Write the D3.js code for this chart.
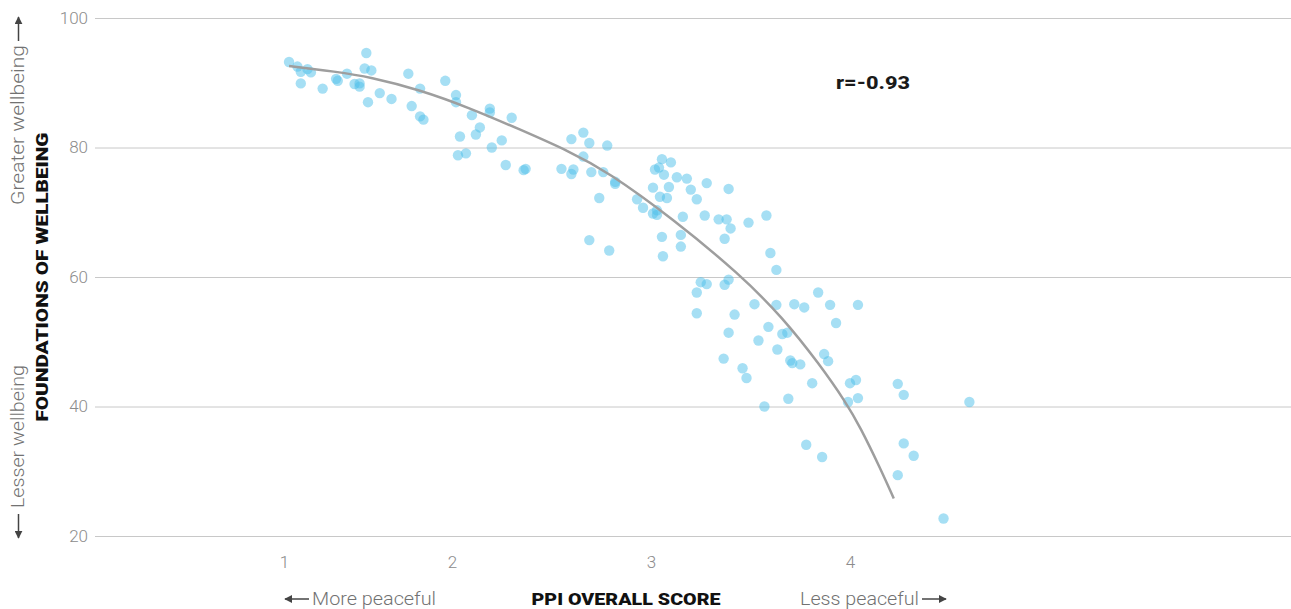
<!DOCTYPE html>
<html>
<head>
<meta charset="utf-8">
<script src="https://cdn.jsdelivr.net/npm/d3@7"></script>
<style>
  html, body { margin: 0; padding: 0; background: #fff; }
  svg { display: block; }
  text { font-family: Roboto, "Noto Sans", sans-serif; }
</style>
</head>
<body>
<svg id="chart" width="1291" height="609"></svg>
<script>
// ---- Data ----
const ppiScore = [
  1.03,1.08,1.10,1.14,1.16,1.10,1.23,1.31,1.32,1.375,1.42,1.45,1.45,1.49,1.48,1.52,1.50,1.57,1.64,1.74,
  1.81,1.76,1.81,1.83,1.96,2.02,2.02,2.10,2.04,2.12,2.14,2.19,2.19,2.30,2.25,2.20,2.03,2.07,2.27,2.36,
  2.37,2.55,2.66,2.60,2.69,2.78,2.66,2.61,2.60,2.70,2.76,2.82,2.82,2.74,2.69,2.79,2.93,2.96,3.01,3.02,
  3.04,3.055,3.10,3.065,3.09,3.045,3.08,3.03,3.01,3.03,3.13,3.18,3.20,3.23,3.28,3.39,3.16,3.27,3.34,3.38,
  3.40,3.49,3.58,3.37,3.055,3.15,3.15,3.06,3.60,3.63,3.25,3.28,3.23,3.37,3.39,3.23,3.42,3.52,3.63,3.72,
  3.77,3.84,3.90,4.04,3.93,3.39,3.59,3.54,3.66,3.685,3.635,3.365,3.46,3.48,3.70,3.71,3.75,3.87,3.89,3.81,
  4.00,4.03,4.24,4.27,4.60,3.99,4.04,3.69,3.57,3.78,3.86,4.27,4.32,4.24,4.47
];
const wellbeing = [
  93.2,92.5,91.7,92.1,91.6,89.9,89.1,90.6,90.3,91.4,89.8,89.4,89.9,94.6,92.2,91.9,87.0,88.4,87.5,91.4,
  89.1,86.4,84.8,84.3,90.3,88.1,87.0,85.0,81.7,82.0,83.1,86.0,85.4,84.6,81.1,80.0,78.8,79.1,77.3,76.5,
  76.7,76.7,82.3,81.3,80.7,80.3,78.6,76.6,75.9,76.2,76.2,74.7,74.4,72.2,65.7,64.1,72.0,70.7,73.8,76.6,
  76.9,78.2,77.7,75.8,73.9,72.4,72.2,70.3,69.8,69.6,75.4,75.2,73.5,72.0,74.5,73.6,69.3,69.5,68.9,68.9,
  67.5,68.4,69.5,65.9,66.2,66.5,64.7,63.2,63.7,61.1,59.2,58.9,57.6,58.8,59.6,54.4,54.2,55.8,55.7,55.8,
  55.3,57.6,55.7,55.7,52.9,51.4,52.3,50.2,51.2,51.4,48.8,47.4,45.9,44.4,47.1,46.7,46.5,48.1,47.0,43.6,
  43.6,44.1,43.5,41.8,40.7,40.7,41.3,41.2,40.0,34.1,32.2,34.3,32.4,29.4,22.7
];
// Fitted trend line
const trendX = [1.03,1.31,1.51,1.81,2.09,2.34,2.59,2.78,3.11,3.45,3.66,3.85,3.98,4.05,4.15,4.22];
const trendY = [92.6,91.7,90.9,88.9,86.1,82.8,79.4,76.3,69.0,60.3,53.8,46.4,40.6,36.9,30.6,25.8];

const xTicks = [1, 2, 3, 4];
const yTicks = [20, 40, 60, 80, 100];
const correlationLabel = "r=-0.93";
const xTitle = "PPI OVERALL SCORE";
const yTitle = "FOUNDATIONS OF WELLBEING";
const xLeftNote = "More peaceful";
const xRightNote = "Less peaceful";
const yTopNote = "Greater wellbeing";
const yBottomNote = "Lesser wellbeing";

// ---- Chart ----
const W = 1291, H = 609;
const svg = d3.select("#chart");

const x = d3.scaleLinear().domain([1, 2, 3, 4]).range([284, 452, 651, 850]);
const y = d3.scaleLinear().domain([20, 100]).range([536, 18]);
const gridLeft = 95, gridRight = W;

// arrow head marker
svg.append("defs").append("marker")
  .attr("id", "ah")
  .attr("viewBox", "0 0 10 10")
  .attr("refX", 9).attr("refY", 5)
  .attr("markerUnits", "userSpaceOnUse")
  .attr("markerWidth", 8).attr("markerHeight", 8)
  .attr("orient", "auto")
  .append("path").attr("d", "M0,0 L10,5 L0,10 Z").attr("fill", "#444");

// gridlines
const yAxis = d3.axisLeft(y).tickValues(yTicks).tickSize(-(gridRight - gridLeft)).tickPadding(8);
const gy = svg.append("g").attr("transform", `translate(${gridLeft},0)`).call(yAxis);
gy.select(".domain").remove();
gy.selectAll(".tick line").attr("stroke", "#c8c8c8").attr("stroke-width", 1);
gy.selectAll(".tick text")
  .attr("x", -7)
  .attr("fill", "#8c8c8c")
  .style("font-size", "17px")
  .style("font-weight", 300)
  .style("font-family", "Roboto, sans-serif");

// x axis labels
const xAxis = d3.axisBottom(x).tickValues(xTicks).tickSize(0).tickPadding(0).tickFormat(d3.format("d"));
const gx = svg.append("g").attr("transform", `translate(0,556)`).call(xAxis);
gx.select(".domain").remove();
gx.selectAll(".tick text")
  .attr("fill", "#8c8c8c")
  .style("font-size", "17px")
  .style("font-weight", 300)
  .style("font-family", "Roboto, sans-serif");

// points
const pts = ppiScore.map((v, i) => ({ x: v, y: wellbeing[i] }));
svg.append("g").selectAll("circle").data(pts).join("circle")
  .attr("cx", d => x(d.x))
  .attr("cy", d => y(d.y))
  .attr("r", 5.2)
  .attr("fill", "#4dc0ea")
  .attr("fill-opacity", 0.5);

// trend line
const trend = trendX.map((v, i) => [v, trendY[i]]);
svg.append("path")
  .datum(trend)
  .attr("fill", "none")
  .attr("stroke", "#9e9e9e")
  .attr("stroke-width", 2.5)
  .attr("d", d3.line().x(d => x(d[0])).y(d => y(d[1])).curve(d3.curveBasis));

// correlation label
svg.append("text")
  .attr("x", 836).attr("y", 88.5)
  .attr("fill", "#1a1a1a")
  .style("font-size", "18px")
  .style("font-weight", 800)
  .attr("textLength", 74).attr("lengthAdjust", "spacingAndGlyphs")
  .text(correlationLabel);

// x titles
svg.append("text")
  .attr("x", 626).attr("y", 605)
  .attr("text-anchor", "middle")
  .attr("fill", "#111")
  .style("font-size", "17px")
  .style("font-weight", 900)
  .attr("textLength", 189).attr("lengthAdjust", "spacingAndGlyphs")
  .text(xTitle);

const noteStyle = sel => sel
  .attr("fill", "#727272")
  .style("font-size", "17.5px")
  .style("font-weight", 300);

svg.append("text")
  .attr("x", 312).attr("y", 605)
  .call(noteStyle)
  .attr("textLength", 124).attr("lengthAdjust", "spacingAndGlyphs")
  .text(xLeftNote);
svg.append("text")
  .attr("x", 800).attr("y", 605)
  .call(noteStyle)
  .attr("textLength", 119).attr("lengthAdjust", "spacingAndGlyphs")
  .text(xRightNote);

// y titles (rotated)
svg.append("text")
  .attr("transform", "translate(48,277) rotate(-90)")
  .attr("text-anchor", "middle")
  .attr("fill", "#111")
  .style("font-size", "16.5px")
  .style("font-weight", 900)
  .attr("textLength", 289).attr("lengthAdjust", "spacingAndGlyphs")
  .text(yTitle);
svg.append("text")
  .attr("transform", "translate(24,205) rotate(-90)")
  .call(noteStyle)
  .attr("textLength", 160).attr("lengthAdjust", "spacingAndGlyphs")
  .text(yTopNote);
svg.append("text")
  .attr("transform", "translate(24,508) rotate(-90)")
  .call(noteStyle)
  .attr("textLength", 143).attr("lengthAdjust", "spacingAndGlyphs")
  .text(yBottomNote);

// direction arrows
const arrows = [
  [[309, 599], [285, 599]],
  [[922, 599], [946, 599]],
  [[18.5, 41], [18.5, 17]],
  [[18.5, 514], [18.5, 538]]
];
svg.append("g").selectAll("line").data(arrows).join("line")
  .attr("x1", d => d[0][0]).attr("y1", d => d[0][1])
  .attr("x2", d => d[1][0]).attr("y2", d => d[1][1])
  .attr("stroke", "#444").attr("stroke-width", 1.5)
  .attr("marker-end", "url(#ah)");
</script>
</body>
</html>
